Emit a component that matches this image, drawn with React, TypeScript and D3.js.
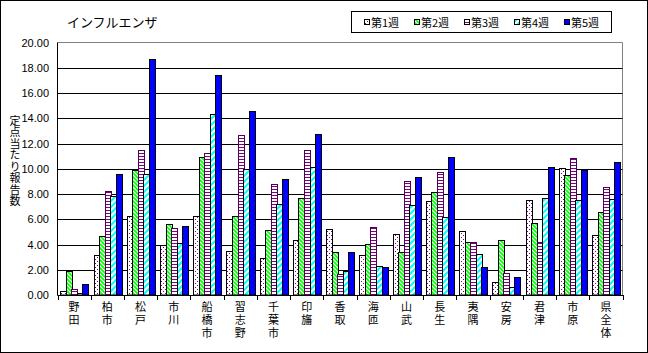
import { useEffect, useRef } from "react";
import * as d3 from "d3";

const WIDTH = 648;
const HEIGHT = 353;
const PLOT = { left: 57.5, right: 622.5, top: 42.5, bottom: 295 };

const CATEGORIES = [
  "野田", "柏市", "松戸", "市川", "船橋市", "習志野", "千葉市", "印旛", "香取",
  "海匝", "山武", "長生", "夷隅", "安房", "君津", "市原", "県全体",
];
const SERIES = ["第1週", "第2週", "第3週", "第4週", "第5週"];
const WEEK1 = [0.29, 3.14, 6.23, 3.96, 6.23, 3.46, 2.9, 4.33, 5.2, 3.14, 4.8, 7.41, 5.04, 1.0, 7.49, 10.03, 4.72];
const WEEK2 = [1.9, 4.64, 9.87, 5.59, 10.97, 6.23, 5.12, 7.65, 3.38, 4.01, 3.38, 8.13, 4.17, 4.33, 5.67, 9.47, 6.54];
const WEEK3 = [0.45, 8.2, 11.48, 5.28, 11.21, 12.64, 8.76, 11.48, 1.64, 5.36, 9.0, 9.71, 4.17, 1.71, 4.17, 10.82, 8.52];
const WEEK4 = [0.13, 7.81, 9.55, 4.09, 14.3, 9.95, 7.18, 10.1, 1.9, 2.32, 7.1, 6.15, 3.22, 0.61, 7.65, 7.49, 7.57];
const WEEK5 = [0.85, 9.55, 18.68, 5.43, 17.46, 14.56, 9.16, 12.72, 3.38, 2.19, 9.34, 10.97, 2.19, 1.4, 10.1, 9.87, 10.5];
const Y_TICKS = [0, 2, 4, 6, 8, 10, 12, 14, 16, 18, 20];
const TITLE = "インフルエンザ";
const Y_TITLE = "定点当たり報告数";

const FILLS = ["url(#p-dots)", "url(#p-green)", "url(#p-hstripe)", "url(#p-cyan)", "#0000ff"];
const STROKES = ["#000", "#000", "#500050", "#000", "#000"];
const JP_FONT = "'Noto Sans CJK JP', sans-serif";

export default function App() {
  const svgRef = useRef<SVGSVGElement>(null);

  useEffect(() => {
    if (!svgRef.current) return;
    const svg = d3.select(svgRef.current);
    svg.selectAll("*").remove();

    const weeks = [WEEK1, WEEK2, WEEK3, WEEK4, WEEK5];

    // Patterns
    const defs = svg.append("defs");
    const dots = defs.append("pattern").attr("id", "p-dots").attr("patternUnits", "userSpaceOnUse")
      .attr("width", 4).attr("height", 4);
    dots.append("rect").attr("width", 4).attr("height", 4).attr("fill", "#fff");
    dots.append("rect").attr("x", 1).attr("y", 1).attr("width", 1).attr("height", 1).attr("fill", "#800080");
    dots.append("rect").attr("x", 3).attr("y", 3).attr("width", 1).attr("height", 1).attr("fill", "#800080");

    const green = defs.append("pattern").attr("id", "p-green").attr("patternUnits", "userSpaceOnUse")
      .attr("width", 4).attr("height", 4);
    green.append("rect").attr("width", 4).attr("height", 4).attr("fill", "#fff");
    green.append("path").attr("d", "M-1,-1 L5,5 M-1,3 L1,5 M3,-1 L5,1")
      .attr("stroke", "#00ff00").attr("stroke-width", 1.6);

    const hs = defs.append("pattern").attr("id", "p-hstripe").attr("patternUnits", "userSpaceOnUse")
      .attr("width", 4).attr("height", 3);
    hs.append("rect").attr("width", 4).attr("height", 3).attr("fill", "#fff");
    hs.append("rect").attr("y", 0).attr("width", 4).attr("height", 1).attr("fill", "#800080");

    const cyan = defs.append("pattern").attr("id", "p-cyan").attr("patternUnits", "userSpaceOnUse")
      .attr("width", 6).attr("height", 6);
    cyan.append("rect").attr("width", 6).attr("height", 6).attr("fill", "#fff");
    cyan.append("path").attr("d", "M-1,7 L7,-1 M-1,1 L1,-1 M5,7 L7,5")
      .attr("stroke", "#00ffff").attr("stroke-width", 2);

    // Outer frame
    svg.append("rect").attr("x", 0.5).attr("y", 0.5).attr("width", WIDTH - 1).attr("height", HEIGHT - 1)
      .attr("fill", "#fff").attr("stroke", "#000");

    // Scales
    const x = d3.scaleBand<string>().domain(CATEGORIES).range([PLOT.left, PLOT.right]).paddingInner(0);
    const bw = x.bandwidth();
    const xs = d3.scaleBand<string>().domain(SERIES).range([bw / 12, bw - bw / 12]).paddingInner(0);
    const y = d3.scaleLinear().domain([0, 20]).range([PLOT.bottom, PLOT.top]);

    // Plot frame (gray top/right)
    svg.append("path")
      .attr("d", `M${PLOT.left},${PLOT.top} H${PLOT.right} V${PLOT.bottom}`)
      .attr("fill", "none").attr("stroke", "#808080");

    // Grid lines
    svg.append("g").selectAll("line")
      .data(Y_TICKS.filter((t) => t > 0 && t < 20))
      .join("line")
      .attr("x1", PLOT.left).attr("x2", PLOT.right)
      .attr("y1", (d) => Math.round(y(d)) + 0.5).attr("y2", (d) => Math.round(y(d)) + 0.5)
      .attr("stroke", "#000");

    // Y labels
    svg.append("g").selectAll("text")
      .data(Y_TICKS)
      .join("text")
      .attr("x", 49).attr("y", (d) => y(d) + 4)
      .attr("text-anchor", "end")
      .attr("font-family", "'Liberation Sans', Arial, sans-serif")
      .attr("font-size", 11)
      .attr("fill", "#000")
      .text((d) => d3.format(".2f")(d));

    // Bars
    SERIES.forEach((s, si) => {
      svg.append("g").selectAll("rect")
        .data(weeks[si])
        .join("rect")
        .attr("x", (_, i) => Math.round(x(CATEGORIES[i])! + xs(s)!) + 0.5)
        .attr("width", Math.round(xs.bandwidth()))
        .attr("y", (d) => Math.round(y(d)) + 0.5)
        .attr("height", (d) => Math.max(0, PLOT.bottom - Math.round(y(d)) - 0.5))
        .attr("fill", FILLS[si])
        .attr("stroke", STROKES[si])
        .attr("stroke-width", 1);
    });

    // Axes lines
    svg.append("line").attr("x1", PLOT.left).attr("x2", PLOT.left)
      .attr("y1", PLOT.top).attr("y2", PLOT.bottom + 0.5).attr("stroke", "#000");
    svg.append("line").attr("x1", PLOT.left).attr("x2", PLOT.right + 0.5)
      .attr("y1", PLOT.bottom + 0.5).attr("y2", PLOT.bottom + 0.5).attr("stroke", "#000");

    // X ticks at category boundaries
    svg.append("g").selectAll("line")
      .data(CATEGORIES.map((c) => x(c)!).concat([PLOT.right]))
      .join("line")
      .attr("x1", (d) => Math.round(d) + 0.5).attr("x2", (d) => Math.round(d) + 0.5)
      .attr("y1", PLOT.bottom).attr("y2", PLOT.bottom + 5)
      .attr("stroke", "#000");

    // X labels (vertical writing)
    svg.append("g").selectAll("text")
      .data(CATEGORIES)
      .join("text")
      .attr("x", (d) => x(d)! + bw / 2)
      .attr("y", 301)
      .style("writing-mode", "vertical-rl")
      .attr("letter-spacing", 2)
      .attr("font-family", JP_FONT)
      .attr("font-size", 11)
      .attr("fill", "#000")
      .text((d) => d);

    // Y title (vertical writing)
    svg.append("text")
      .attr("x", 15).attr("y", 115)
      .style("writing-mode", "vertical-rl")
      .attr("letter-spacing", 0.5)
      .attr("font-family", JP_FONT)
      .attr("font-size", 11)
      .attr("fill", "#000")
      .text(Y_TITLE);

    // Title
    svg.append("text")
      .attr("x", 67).attr("y", 21)
      .attr("dominant-baseline", "central")
      .attr("font-family", JP_FONT)
      .attr("font-size", 13)
      .attr("fill", "#000")
      .text(TITLE);

    // Legend
    svg.append("rect").attr("x", 351.5).attr("y", 11.5).attr("width", 260).attr("height", 21)
      .attr("fill", "#fff").attr("stroke", "#000");
    const lg = svg.append("g").selectAll("g").data(SERIES).join("g")
      .attr("transform", (_, i) => `translate(${364 + i * 50},22)`);
    lg.append("rect").attr("x", 0.5).attr("y", -2.5).attr("width", 5).attr("height", 5)
      .attr("fill", (_, i) => FILLS[i]).attr("stroke", "#000");
    lg.append("text")
      .attr("x", 7).attr("y", 0)
      .attr("dominant-baseline", "central")
      .attr("font-family", JP_FONT)
      .attr("font-size", 11)
      .attr("fill", "#000")
      .text((d) => d);
  }, []);

  return (
    <svg
      ref={svgRef}
      width={WIDTH}
      height={HEIGHT}
      style={{ position: "absolute", left: 0, top: 0, display: "block" }}
    />
  );
}
